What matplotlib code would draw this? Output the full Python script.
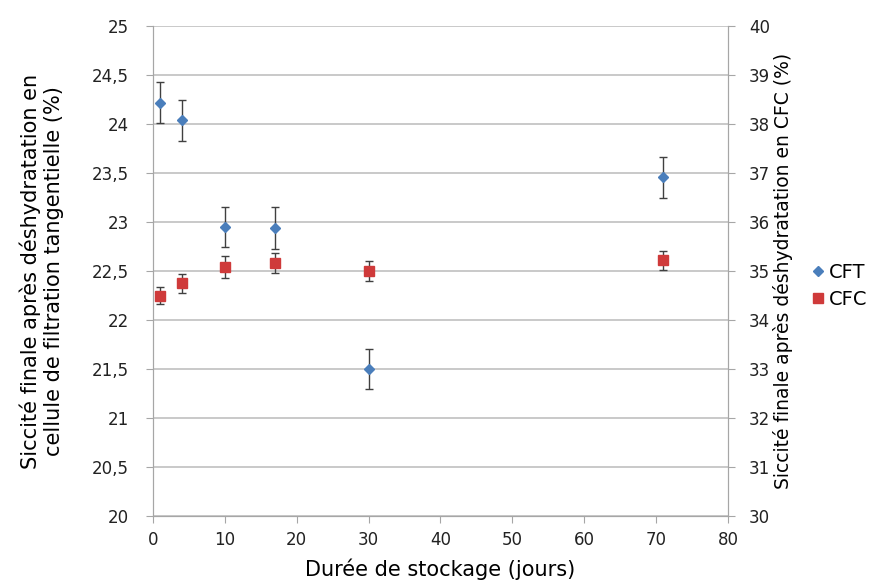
import matplotlib
matplotlib.use("Agg")
import matplotlib.pyplot as plt
from matplotlib.lines import Line2D
from matplotlib.ticker import FuncFormatter

# Données
jours = [1, 4, 10, 17, 30, 71]
cft = [24.22, 24.04, 22.95, 22.94, 21.50, 23.46]
cft_err = [0.21, 0.21, 0.20, 0.21, 0.20, 0.21]
cfc = [34.50, 34.75, 35.08, 35.16, 35.00, 35.22]
cfc_err = [0.18, 0.20, 0.22, 0.20, 0.20, 0.20]

grey = "#a6a6a6"
blue = "#4a7ebb"
red = "#cf3a3a"
fig = plt.figure(figsize=(8.88, 5.83), dpi=100)
ax = fig.add_axes([0.172, 0.115, 0.648, 0.84])
ax2 = ax.twinx()

ax.errorbar(jours, cft, yerr=cft_err, fmt="D", color=blue, ms=5,
            ecolor="#404040", elinewidth=1, capsize=3, capthick=1, zorder=3)
ax2.errorbar(jours, cfc, yerr=cfc_err, fmt="s", color=red, ms=7,
             ecolor="#404040", elinewidth=1, capsize=3, capthick=1, zorder=3)

ax.set_xlim(0, 80)
ax.set_ylim(20, 25)
ax2.set_ylim(30, 40)
ax.set_xticks(range(0, 81, 10))
ax.set_yticks([20 + 0.5 * i for i in range(11)])
ax2.set_yticks(range(30, 41))

comma = FuncFormatter(lambda v, p: f"{v:g}".replace(".", ","))
ax.yaxis.set_major_formatter(comma)

ax.yaxis.grid(True, color="#c0c0c0", lw=1.2)
ax.set_axisbelow(True)

for a in (ax, ax2):
    a.spines["top"].set_visible(False)
    for s in ("left", "right", "bottom"):
        a.spines[s].set_color(grey)
    a.tick_params(colors=grey, labelcolor="#222222", labelsize=12, length=5)
ax.tick_params(axis="y", pad=12)
ax2.tick_params(axis="y", pad=10)
ax.tick_params(axis="x", pad=6)

ax.set_xlabel("Durée de stockage (jours)", fontsize=15, labelpad=7)
ax.set_ylabel("Siccité finale après déshydratation en\ncellule de filtration tangentielle (%)",
              fontsize=15, labelpad=20)
ax2.set_ylabel("Siccité finale après déshydratation en CFC (%)", fontsize=13.5, labelpad=2)

handles = [Line2D([], [], marker="D", ls="none", color=blue, ms=5),
           Line2D([], [], marker="s", ls="none", color=red, ms=7)]
fig.legend(handles, ["CFT", "CFC"], loc="center left", bbox_to_anchor=(0.89, 0.51),
           frameon=False, fontsize=14, handletextpad=0.1, handlelength=1.0,
           labelspacing=0.4)

fig.savefig("out.png", dpi=100)
